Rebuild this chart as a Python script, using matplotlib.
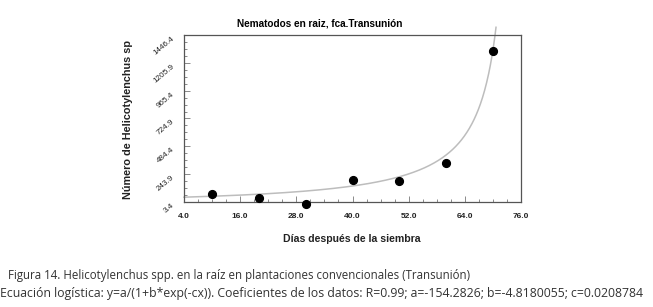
import numpy as np
import matplotlib
matplotlib.use("Agg")
import matplotlib.pyplot as plt
from matplotlib.ticker import MultipleLocator, FixedLocator

# Data
dias = [10, 20, 30, 40, 50, 60, 70]
nematodos = [70, 42, -12, 193, 187, 338, 1306]

# Logistic fit coefficients (from the caption)
coef_a = -154.2826
coef_b = -4.8180055
coef_c = 0.0208784

x_ticks = [4.0, 16.0, 28.0, 40.0, 52.0, 64.0, 76.0]
y_ticks = [3.4, 243.9, 484.4, 724.9, 965.4, 1205.9, 1446.4]

title = "Nematodos en raiz, fca.Transunión"
xlabel = "Días después de la siembra"
ylabel = "Número de Helicotylenchus sp"
caption1 = "Figura 14. Helicotylenchus spp. en la raíz en plantaciones convencionales (Transunión)"
caption2 = ("Ecuación logística: y=a/(1+b*exp(-cx)). Coeficientes de los datos: "
            "R=0.99; a=-154.2826; b=-4.8180055; c=0.0208784")

fig = plt.figure(figsize=(6.53, 3.07), dpi=100)
W, H = 653, 307
left, right, top, bottom = 184, 521, 35, 202
ax = fig.add_axes([left / W, 1 - bottom / H, (right - left) / W, (bottom - top) / H])

# fitted curve
x_end = 70.66
xc = np.linspace(x_ticks[0], x_end, 600)
yc = coef_a / (1 + coef_b * np.exp(-coef_c * xc))
ax.plot(xc, yc, color="#bdbdbd", lw=1.1, clip_on=False, zorder=2)

ax.plot(dias, nematodos, "o", color="black", ms=5.6, clip_on=False, zorder=3)

ax.set_xlim(x_ticks[0], x_ticks[-1])
ax.set_ylim(y_ticks[0], y_ticks[-1])
ax.xaxis.set_major_locator(FixedLocator(x_ticks))
ax.yaxis.set_major_locator(FixedLocator(y_ticks))
ax.xaxis.set_minor_locator(MultipleLocator(3, offset=1))
ax.yaxis.set_minor_locator(MultipleLocator((y_ticks[1] - y_ticks[0]) / 4, offset=y_ticks[0]))
ax.set_xticklabels([f"{v:.1f}" for v in x_ticks], fontsize=6.0, fontweight="bold",
                   family="Liberation Sans", color="#222222")
ax.set_yticklabels([f"{v:.1f}" for v in y_ticks], fontsize=5.9, rotation=40,
                   family="Liberation Sans", color="#222222", va="top", ha="right")
ax.tick_params(axis="both", which="both", direction="in", top=False, right=False,
               color="#777777", width=0.6)
ax.tick_params(axis="both", which="major", length=4)
ax.tick_params(axis="x", which="major", pad=8)
ax.tick_params(axis="y", which="major", pad=6)
ax.tick_params(axis="both", which="minor", length=2.5)
for s in ax.spines.values():
    s.set_color("#555555")
    s.set_linewidth(0.9)

fig.text(320 / W, 1 - 23 / H, title, ha="center", va="center", fontsize=7.2,
         fontweight="bold", family="Liberation Sans")
fig.text(352 / W, 1 - 239 / H, xlabel, ha="center", va="center", fontsize=7.6,
         fontweight="bold", family="Liberation Sans", color="#222222")
fig.text(128 / W, 1 - 120 / H, ylabel, ha="center", va="center", fontsize=7.8,
         fontweight="bold", family="Liberation Sans", rotation=90, color="#222222")

fig.text(8 / W, 1 - 275 / H, caption1, ha="left", va="center", fontsize=8.3,
         family="Open Sans", color="#333333")
fig.text(0 / W, 1 - 294 / H, caption2, ha="left", va="center", fontsize=8.85,
         family="Open Sans", color="#333333")

fig.savefig("out.png", dpi=100)
